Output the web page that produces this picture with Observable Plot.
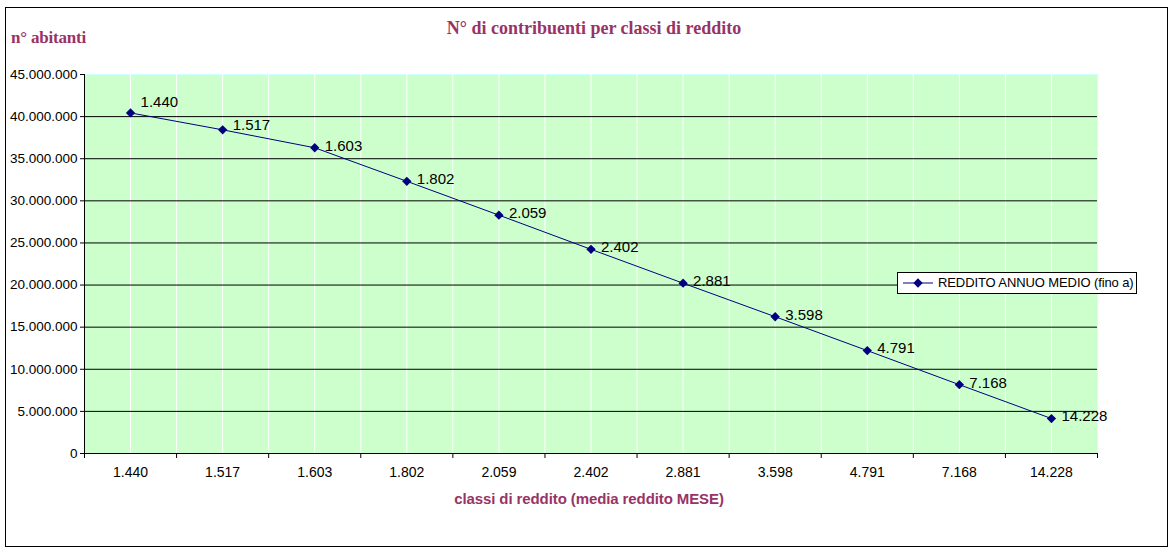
<!DOCTYPE html>
<html>
<head>
<meta charset="utf-8">
<script src="https://cdn.jsdelivr.net/npm/d3@7"></script>
<script src="https://cdn.jsdelivr.net/npm/@observablehq/plot@0.6"></script>
<style>
  html, body { margin: 0; padding: 0; background: #fff; }
  #wrap { position: relative; width: 1176px; height: 554px; overflow: hidden; }
  #border { position: absolute; left: 5px; top: 7px; width: 1161px; height: 538px; border: 1.5px solid #000; }
  #chart { position: absolute; left: 0; top: 0; }
  .t { position: absolute; white-space: nowrap; color: #993366; line-height: 1; }
  #title { left: 594px; top: 19px; transform: translateX(-50%); font-family: "Liberation Serif", "Times New Roman", serif; font-weight: bold; font-size: 18px; letter-spacing: 0px; }
  #ylab { left: 11px; top: 29px; font-family: "Liberation Serif", "Times New Roman", serif; font-weight: bold; font-size: 17px; letter-spacing: -0.2px; }
  #xlab { left: 589px; top: 491px; transform: translateX(-50%); font-family: "Liberation Sans", Arial, sans-serif; font-weight: bold; font-size: 15px; letter-spacing: -0.1px; }
  #legend { position: absolute; left: 897px; top: 272px; width: 238px; height: 20px; border: 1px solid #000; background: #fff; }
  #legend svg { position: absolute; left: 4px; top: 0; }
  #legend span { position: absolute; left: 40px; top: 3px; font-family: "Liberation Sans", Arial, sans-serif; font-size: 13px; letter-spacing: -0.1px; color: #000; white-space: nowrap; line-height: 1; }
</style>
</head>
<body>
<div id="wrap">
  <div id="border"></div>
  <div id="chart"></div>
  <div class="t" id="title"></div>
  <div class="t" id="ylab"></div>
  <div class="t" id="xlab"></div>
  <div id="legend"></div>
</div>
<script>
// ---- data ----
const categories = ["1.440", "1.517", "1.603", "1.802", "2.059", "2.402", "2.881", "3.598", "4.791", "7.168", "14.228"];
const contribuenti = [40440000, 38430000, 36300000, 32320000, 28300000, 24240000, 20220000, 16240000, 12220000, 8170000, 4150000];
const yTicks = [0, 5000000, 10000000, 15000000, 20000000, 25000000, 30000000, 35000000, 40000000, 45000000];
const seriesName = "REDDITO ANNUO MEDIO (fino a)";
const chartTitle = "N° di contribuenti per classi di reddito";
const yTitle = "n° abitanti";
const xTitle = "classi di reddito (media reddito MESE)";

// ---- build ----
const data = categories.map((c, i) => ({cat: c, pos: i + 0.5, value: contribuenti[i]}));
const itFmt = d3.formatLocale({decimal: ",", thousands: ".", grouping: [3], currency: ["€", ""]}).format(",d");
const n = categories.length;
const yMax = yTicks[yTicks.length - 1];
const navy = "#000080";
const markerR = 4.2;

const chart = Plot.plot({
  width: 1176,
  height: 554,
  marginLeft: 84,
  marginRight: 79,
  marginTop: 74,
  marginBottom: 101,
  style: {fontFamily: "'Liberation Sans', Arial, sans-serif", fontSize: "13.5px", color: "#000", background: "transparent", overflow: "visible"},
  x: {type: "linear", domain: [0, n], axis: null, label: null},
  y: {domain: [0, yMax], axis: null, label: null},
  marks: [
    Plot.frame({fill: "#CCFFCC", stroke: "#CCFFFF"}),
    Plot.ruleX(d3.range(1, 2 * n).map(k => k / 2), {stroke: "#fff", strokeWidth: 1}),
    Plot.ruleY(yTicks.filter(v => v > 0 && v < yMax), {stroke: "#000", strokeWidth: 1}),
    Plot.ruleX([0], {stroke: "#000"}),
    Plot.ruleY([0], {stroke: "#000"}),
    Plot.axisY({ticks: yTicks, tickSize: 4, tickPadding: 3, tickFormat: itFmt, label: null, fontSize: 13.5, letterSpacing: -0.3}),
    Plot.axisX({ticks: d3.range(0, n + 1), tickSize: 5, tickFormat: () => "", label: null}),
    Plot.axisX({ticks: data.map(d => d.pos), tickSize: 0, tickPadding: 14, tickFormat: p => categories[Math.floor(p)], label: null, fontSize: 14, letterSpacing: -0.3}),
    Plot.line(data, {x: "pos", y: "value", stroke: navy, strokeWidth: 1}),
    Plot.dot(data, {x: "pos", y: "value", symbol: "diamond2", r: markerR, fill: navy, stroke: "none"}),
    Plot.text(data.slice(0, 1), {x: "pos", y: "value", text: "cat", textAnchor: "start", dx: 10, dy: -11, fontSize: 15, fill: "#000", letterSpacing: -0.4}),
    Plot.text(data.slice(1, 2), {x: "pos", y: "value", text: "cat", textAnchor: "start", dx: 10, dy: -5, fontSize: 15, fill: "#000", letterSpacing: -0.4}),
    Plot.text(data.slice(2), {x: "pos", y: "value", text: "cat", textAnchor: "start", dx: 10, dy: -2, fontSize: 15, fill: "#000", letterSpacing: -0.4})
  ]
});
document.getElementById("chart").appendChild(chart);

document.getElementById("title").textContent = chartTitle;
document.getElementById("ylab").textContent = yTitle;
document.getElementById("xlab").textContent = xTitle;

// legend
const leg = document.getElementById("legend");
const diamond = d3.symbol(d3.symbolDiamond2, Math.PI * markerR * markerR)();
leg.innerHTML = `<svg width="34" height="20"><line x1="1" x2="31" y1="10" y2="10" stroke="${navy}" stroke-width="1"/><path d="${diamond}" transform="translate(16,10)" fill="${navy}"/></svg><span></span>`;
leg.querySelector("span").textContent = seriesName;
</script>
</body>
</html>
